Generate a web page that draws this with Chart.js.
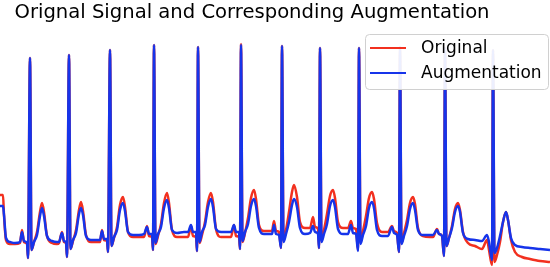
<!DOCTYPE html>
<html>
<head>
<meta charset="utf-8">
<script src="https://cdn.jsdelivr.net/npm/chart.js@4"></script>
<style>
  html, body { margin: 0; padding: 0; background: #fff; }
  #wrap { width: 550px; height: 267px; position: relative; }
</style>
</head>
<body>
<div id="wrap"><canvas id="ecgChart"></canvas></div>
<script>
// sample positions shared by both traces
const samples = [
  0, 3, 4, 6, 10, 15,
  20, 22, 24, 27, 28, 30, 31.5, 34, 37, 40, 42, 44, 47, 52, 57,
  59, 62, 64, 66, 67, 69, 70.5, 73, 76, 79, 81, 83, 86, 91, 96,
  100, 102, 104, 107, 108, 110, 111.5, 114, 117, 120, 123, 125, 128, 133, 139,
  144, 147, 149, 152, 153, 154, 155.5, 158, 161, 164, 167, 169, 172, 177, 184,
  188, 191, 193, 196, 197, 198, 199.5, 202, 205, 208, 211, 213, 216, 221, 228,
  231, 234, 236, 239, 240, 241, 242.5, 245, 248, 251, 254, 256, 259, 264, 271,
  272, 274, 276, 279, 281, 282, 283.5, 286, 289, 292, 294, 297, 300, 305,
  310, 313, 315, 318, 319, 320, 321.5, 324, 327, 330, 333, 335, 338, 343,
  348, 351, 353, 356, 358, 359, 360.5, 363, 366, 369, 372, 374, 377, 382,
  388, 392, 394, 397, 399, 400, 401.5, 404, 407, 410, 413, 415, 418, 423, 430,
  433, 437, 439, 442, 444, 445, 446.5, 449, 452, 455, 458, 460, 463, 468, 475, 482,
  487, 489, 492, 493, 494.5, 497, 500, 503, 506, 508, 511, 515, 522, 530, 540, 550
];

const original = [
  0.50, 0.50, 0.30, 0.05, 0.01, 0.01,
  0.02, 0.15, 0.03, 0.01, -0.13, 1.87, -0.05, 0.03, 0.13, 0.33, 0.42, 0.33, 0.09, 0.02, 0.01,
  0.02, 0.13, 0.03, 0.02, -0.12, 1.90, -0.04, 0.04, 0.15, 0.35, 0.43, 0.34, 0.10, 0.03, 0.03,
  0.03, 0.15, 0.05, 0.04, -0.07, 1.95, -0.01, 0.07, 0.18, 0.40, 0.48, 0.38, 0.13, 0.08, 0.08,
  0.08, 0.19, 0.09, 0.08, -0.05, 2.00, 0.01, 0.09, 0.21, 0.42, 0.52, 0.42, 0.15, 0.08, 0.08,
  0.08, 0.19, 0.09, 0.08, -0.06, 1.98, 0.02, 0.10, 0.23, 0.43, 0.52, 0.43, 0.16, 0.08, 0.08,
  0.08, 0.20, 0.09, 0.08, -0.04, 2.01, 0.03, 0.12, 0.27, 0.47, 0.55, 0.46, 0.20, 0.14, 0.14,
  0.14, 0.24, 0.14, 0.13, -0.03, 1.99, 0.05, 0.15, 0.33, 0.53, 0.60, 0.48, 0.23, 0.17,
  0.17, 0.28, 0.18, 0.16, -0.03, 1.97, 0.05, 0.15, 0.31, 0.49, 0.55, 0.47, 0.23, 0.17,
  0.17, 0.24, 0.17, 0.16, -0.05, 1.97, 0.03, 0.14, 0.29, 0.47, 0.53, 0.46, 0.22, 0.13,
  0.13, 0.19, 0.14, 0.12, -0.07, 1.98, 0.02, 0.12, 0.25, 0.42, 0.48, 0.41, 0.17, 0.09, 0.08,
  0.08, 0.16, 0.11, 0.09, -0.11, 1.97, -0.01, 0.07, 0.19, 0.36, 0.42, 0.35, 0.13, 0.02, -0.01, -0.04,
  0.05, -0.05, -0.20, 1.95, -0.17, -0.10, 0.03, 0.23, 0.33, 0.25, 0.05, -0.07, -0.12, -0.14, -0.16, -0.17
];

const augmentation = [
  0.39, 0.39, 0.30, 0.07, 0.03, 0.02,
  0.03, 0.13, 0.04, 0.02, -0.13, 1.87, -0.05, 0.03, 0.10, 0.29, 0.37, 0.29, 0.09, 0.04, 0.03,
  0.03, 0.12, 0.04, 0.03, -0.12, 1.90, -0.04, 0.05, 0.12, 0.31, 0.37, 0.30, 0.09, 0.05, 0.05,
  0.05, 0.14, 0.06, 0.06, -0.07, 1.95, -0.01, 0.08, 0.15, 0.35, 0.42, 0.34, 0.13, 0.10, 0.10,
  0.11, 0.18, 0.11, 0.11, -0.05, 2.00, 0.02, 0.11, 0.18, 0.37, 0.45, 0.37, 0.15, 0.12, 0.13,
  0.13, 0.20, 0.13, 0.13, -0.06, 1.98, 0.03, 0.13, 0.20, 0.38, 0.46, 0.38, 0.16, 0.13, 0.13,
  0.13, 0.20, 0.13, 0.13, -0.04, 2.00, 0.04, 0.13, 0.21, 0.39, 0.46, 0.39, 0.17, 0.11, 0.11,
  0.11, 0.20, 0.11, 0.10, -0.03, 1.99, 0.03, 0.11, 0.23, 0.40, 0.46, 0.38, 0.17, 0.11,
  0.12, 0.19, 0.13, 0.11, -0.03, 1.97, 0.03, 0.11, 0.21, 0.39, 0.45, 0.38, 0.16, 0.11,
  0.11, 0.20, 0.12, 0.11, -0.06, 1.97, 0.01, 0.10, 0.19, 0.37, 0.43, 0.37, 0.15, 0.09,
  0.09, 0.18, 0.12, 0.10, -0.07, 1.98, 0.01, 0.09, 0.19, 0.36, 0.42, 0.35, 0.15, 0.10, 0.10,
  0.10, 0.15, 0.11, 0.09, -0.11, 1.97, -0.01, 0.07, 0.17, 0.33, 0.39, 0.33, 0.12, 0.06, 0.05, 0.04,
  0.10, 0.03, -0.15, 1.95, -0.08, -0.03, 0.09, 0.23, 0.33, 0.25, 0.07, 0.00, -0.02, -0.03, -0.04, -0.05
];

const seriesLabels = ["Original", "Augmentation"];
const chartTitle = "Orignal Signal and Corresponding Augmentation";

const RED = "#f2301f";
const BLUE = "#1634ea";

function toPoints(values) {
  return samples.map((t, i) => ({ x: t, y: values[i] }));
}

// title drawn by hand so it can sit where matplotlib put it
const titlePlugin = {
  id: "mplTitle",
  afterDraw(chart) {
    const ctx = chart.ctx;
    ctx.save();
    ctx.font = "19.6px 'DejaVu Sans'";
    ctx.fillStyle = "#000";
    ctx.textAlign = "center";
    ctx.textBaseline = "alphabetic";
    ctx.fillText(chartTitle, 252, 18);
    ctx.restore();
  }
};

// boxed legend in the upper right corner, over the traces
const legendPlugin = {
  id: "mplLegend",
  afterDatasetsDraw(chart) {
    const ctx = chart.ctx;
    const x0 = 365.5, y0 = 34.5, w = 183, h = 55, r = 4;
    ctx.save();
    ctx.beginPath();
    ctx.roundRect(x0, y0, w, h, r);
    ctx.fillStyle = "rgba(255,255,255,0.92)";
    ctx.fill();
    ctx.strokeStyle = "#d0d0d0";
    ctx.lineWidth = 1;
    ctx.stroke();

    const colors = [RED, BLUE];
    const rows = [48, 73];
    ctx.font = "17px 'DejaVu Sans'";
    ctx.textBaseline = "middle";
    ctx.fillStyle = "#000";
    rows.forEach((y, i) => {
      ctx.beginPath();
      ctx.moveTo(370, y);
      ctx.lineTo(406, y);
      ctx.strokeStyle = colors[i];
      ctx.lineWidth = 2.2;
      ctx.stroke();
      ctx.fillText(seriesLabels[i], 421, y + 0.5);
    });
    ctx.restore();
  }
};

new Chart(document.getElementById("ecgChart"), {
  type: "line",
  data: {
    datasets: [
      {
        label: seriesLabels[0],
        data: toPoints(original),
        borderColor: RED,
        borderWidth: 2.5,
        pointRadius: 0,
        cubicInterpolationMode: "monotone",
        order: 2
      },
      {
        label: seriesLabels[1],
        data: toPoints(augmentation),
        borderColor: BLUE,
        borderWidth: 2.5,
        pointRadius: 0,
        cubicInterpolationMode: "monotone",
        order: 1
      }
    ]
  },
  options: {
    responsive: true,
    maintainAspectRatio: false,
    animation: false,
    layout: { padding: { top: 38, left: 0, right: 0, bottom: 0 } },
    plugins: {
      legend: { display: false },
      title: { display: false },
      tooltip: { enabled: false }
    },
    scales: {
      x: { type: "linear", min: 0, max: 550, display: false },
      y: { min: -0.22, max: 2.07, display: false }
    }
  },
  plugins: [titlePlugin, legendPlugin]
});
</script>
</body>
</html>
